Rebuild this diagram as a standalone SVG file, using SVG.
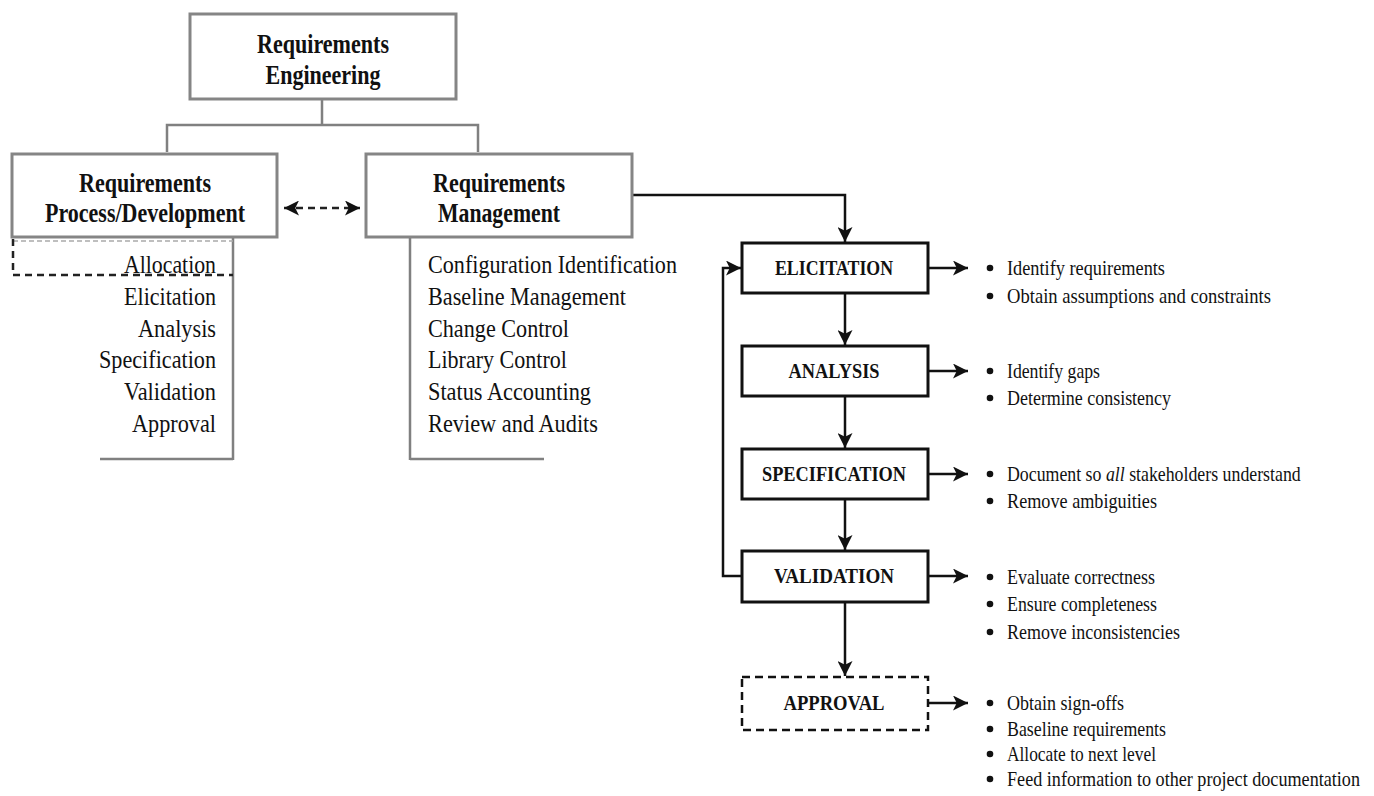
<svg xmlns="http://www.w3.org/2000/svg" width="1374" height="796" viewBox="0 0 1374 796">
<style>
.t{font-family:"Liberation Serif","Times New Roman",serif;fill:#111}
.hb{font-weight:bold;font-size:27px}
.fl{font-weight:bold;font-size:21px}
.li{font-size:26px}
.bl{font-size:22px}
.gbox{fill:#fff;stroke:#858585;stroke-width:3}
.fbox{fill:#fff;stroke:#111;stroke-width:3}
.dbox{fill:#fff;stroke:#111;stroke-width:2.5;stroke-dasharray:8 5}
.gl{fill:none;stroke:#808080;stroke-width:2.5}
.bk{fill:none;stroke:#111;stroke-width:2.5}
.dl{fill:none;stroke:#222;stroke-width:2.5;stroke-dasharray:7 5}
</style>
<defs>
<marker id="ah" viewBox="0 0 12 12" refX="12" refY="6" markerWidth="15" markerHeight="15" markerUnits="userSpaceOnUse" orient="auto-start-reverse"><path d="M0,0 L12,6 L0,12 L3,6 z" fill="#111"/></marker>
</defs>

<g id="connectors">
<path class="gl" d="M322,98 V125 M167,152 V125 H478 V152"/>
<path class="dl" d="M284,208 H360" marker-start="url(#ah)" marker-end="url(#ah)"/>
<path class="bk" d="M632,195 H845 V242" marker-end="url(#ah)"/>
<path class="bk" d="M845,293 V345" marker-end="url(#ah)"/>
<path class="bk" d="M845,396 V448" marker-end="url(#ah)"/>
<path class="bk" d="M845,499 V550" marker-end="url(#ah)"/>
<path class="bk" d="M845,602 V676" marker-end="url(#ah)"/>
<path class="bk" d="M742,576 H723 V268 H741" marker-end="url(#ah)"/>
<path class="bk" d="M928,268 H968" marker-end="url(#ah)"/>
<path class="bk" d="M928,371 H968" marker-end="url(#ah)"/>
<path class="bk" d="M928,474 H968" marker-end="url(#ah)"/>
<path class="bk" d="M928,576 H968" marker-end="url(#ah)"/>
<path class="bk" d="M928,703 H968" marker-end="url(#ah)"/>
</g>

<g id="req-eng">
<rect class="gbox" x="190" y="14" width="266" height="85"/>
<text class="t hb" x="323" y="53" text-anchor="middle" textLength="132" lengthAdjust="spacingAndGlyphs">Requirements</text>
<text class="t hb" x="323" y="84" text-anchor="middle" textLength="115" lengthAdjust="spacingAndGlyphs">Engineering</text>
</g>

<g id="req-dev">
<rect class="gbox" x="12" y="154" width="265" height="83"/>
<text class="t hb" x="145" y="192" text-anchor="middle" textLength="132" lengthAdjust="spacingAndGlyphs">Requirements</text>
<text class="t hb" x="145" y="222" text-anchor="middle" textLength="200" lengthAdjust="spacingAndGlyphs">Process/Development</text>
</g>

<g id="req-mgmt">
<rect class="gbox" x="366" y="154" width="266" height="83"/>
<text class="t hb" x="499" y="192" text-anchor="middle" textLength="132" lengthAdjust="spacingAndGlyphs">Requirements</text>
<text class="t hb" x="499" y="222" text-anchor="middle" textLength="122" lengthAdjust="spacingAndGlyphs">Management</text>
</g>

<g id="dev-list">
<path class="gl" d="M233,238 V460 M100,459 H233" stroke-width="2"/>
<path d="M13,241 H233" fill="none" stroke="#aaa" stroke-width="1.5" stroke-dasharray="5 3"/>
<path class="dl" d="M13,239 V275 H233"/>
<text class="t li" x="216" y="273" text-anchor="end" textLength="92" lengthAdjust="spacingAndGlyphs">Allocation</text>
<text class="t li" x="216" y="305" text-anchor="end" textLength="92" lengthAdjust="spacingAndGlyphs">Elicitation</text>
<text class="t li" x="216" y="337" text-anchor="end" textLength="78" lengthAdjust="spacingAndGlyphs">Analysis</text>
<text class="t li" x="216" y="368" text-anchor="end" textLength="117" lengthAdjust="spacingAndGlyphs">Specification</text>
<text class="t li" x="216" y="400" text-anchor="end" textLength="92" lengthAdjust="spacingAndGlyphs">Validation</text>
<text class="t li" x="216" y="432" text-anchor="end" textLength="84" lengthAdjust="spacingAndGlyphs">Approval</text>
</g>

<g id="mgmt-list">
<path class="gl" d="M410,238 V460 M410,459 H544" stroke-width="2"/>
<text class="t li" x="428" y="273" textLength="249" lengthAdjust="spacingAndGlyphs">Configuration Identification</text>
<text class="t li" x="428" y="305" textLength="198" lengthAdjust="spacingAndGlyphs">Baseline Management</text>
<text class="t li" x="428" y="337" textLength="141" lengthAdjust="spacingAndGlyphs">Change Control</text>
<text class="t li" x="428" y="368" textLength="139" lengthAdjust="spacingAndGlyphs">Library Control</text>
<text class="t li" x="428" y="400" textLength="163" lengthAdjust="spacingAndGlyphs">Status Accounting</text>
<text class="t li" x="428" y="432" textLength="170" lengthAdjust="spacingAndGlyphs">Review and Audits</text>
</g>

<g id="elicitation">
<rect class="fbox" x="742" y="243" width="186" height="50"/>
<text class="t fl" x="834" y="275" text-anchor="middle" textLength="118" lengthAdjust="spacingAndGlyphs">ELICITATION</text>
</g>
<g id="analysis">
<rect class="fbox" x="742" y="346" width="186" height="50"/>
<text class="t fl" x="834" y="378" text-anchor="middle" textLength="91" lengthAdjust="spacingAndGlyphs">ANALYSIS</text>
</g>
<g id="specification">
<rect class="fbox" x="742" y="449" width="186" height="50"/>
<text class="t fl" x="834" y="481" text-anchor="middle" textLength="144" lengthAdjust="spacingAndGlyphs">SPECIFICATION</text>
</g>
<g id="validation">
<rect class="fbox" x="742" y="551" width="186" height="51"/>
<text class="t fl" x="834" y="583" text-anchor="middle" textLength="120" lengthAdjust="spacingAndGlyphs">VALIDATION</text>
</g>
<g id="approval">
<rect class="dbox" x="742" y="677" width="186" height="53"/>
<text class="t fl" x="834" y="710" text-anchor="middle" textLength="101" lengthAdjust="spacingAndGlyphs">APPROVAL</text>
</g>

<g id="bullets" fill="#111">
<circle cx="990" cy="268" r="3.3"/><circle cx="990" cy="296" r="3.3"/>
<circle cx="990" cy="371" r="3.3"/><circle cx="990" cy="398" r="3.3"/>
<circle cx="990" cy="474" r="3.3"/><circle cx="990" cy="501" r="3.3"/>
<circle cx="990" cy="577" r="3.3"/><circle cx="990" cy="604" r="3.3"/><circle cx="990" cy="632" r="3.3"/>
<circle cx="990" cy="703" r="3.3"/><circle cx="990" cy="729" r="3.3"/><circle cx="990" cy="754" r="3.3"/><circle cx="990" cy="779" r="3.3"/>
</g>
<g id="bullet-text">
<text class="t bl" x="1007" y="275" textLength="158" lengthAdjust="spacingAndGlyphs">Identify requirements</text>
<text class="t bl" x="1007" y="303" textLength="264" lengthAdjust="spacingAndGlyphs">Obtain assumptions and constraints</text>
<text class="t bl" x="1007" y="378" textLength="93" lengthAdjust="spacingAndGlyphs">Identify gaps</text>
<text class="t bl" x="1007" y="405" textLength="164" lengthAdjust="spacingAndGlyphs">Determine consistency</text>
<text class="t bl" transform="translate(1007,481) scale(0.81,1)" x="0" y="0">Document so <tspan font-style="italic">all</tspan> stakeholders understand</text>
<text class="t bl" x="1007" y="508" textLength="150" lengthAdjust="spacingAndGlyphs">Remove ambiguities</text>
<text class="t bl" x="1007" y="584" textLength="148" lengthAdjust="spacingAndGlyphs">Evaluate correctness</text>
<text class="t bl" x="1007" y="611" textLength="150" lengthAdjust="spacingAndGlyphs">Ensure completeness</text>
<text class="t bl" x="1007" y="639" textLength="173" lengthAdjust="spacingAndGlyphs">Remove inconsistencies</text>
<text class="t bl" x="1007" y="710" font-size="21" textLength="117" lengthAdjust="spacingAndGlyphs">Obtain sign-offs</text>
<text class="t bl" x="1007" y="736" font-size="21" textLength="159" lengthAdjust="spacingAndGlyphs">Baseline requirements</text>
<text class="t bl" x="1007" y="761" font-size="21" textLength="149" lengthAdjust="spacingAndGlyphs">Allocate to next level</text>
<text class="t bl" x="1007" y="786" font-size="20" textLength="353" lengthAdjust="spacingAndGlyphs">Feed information to other project documentation</text>
</g>
</svg>
